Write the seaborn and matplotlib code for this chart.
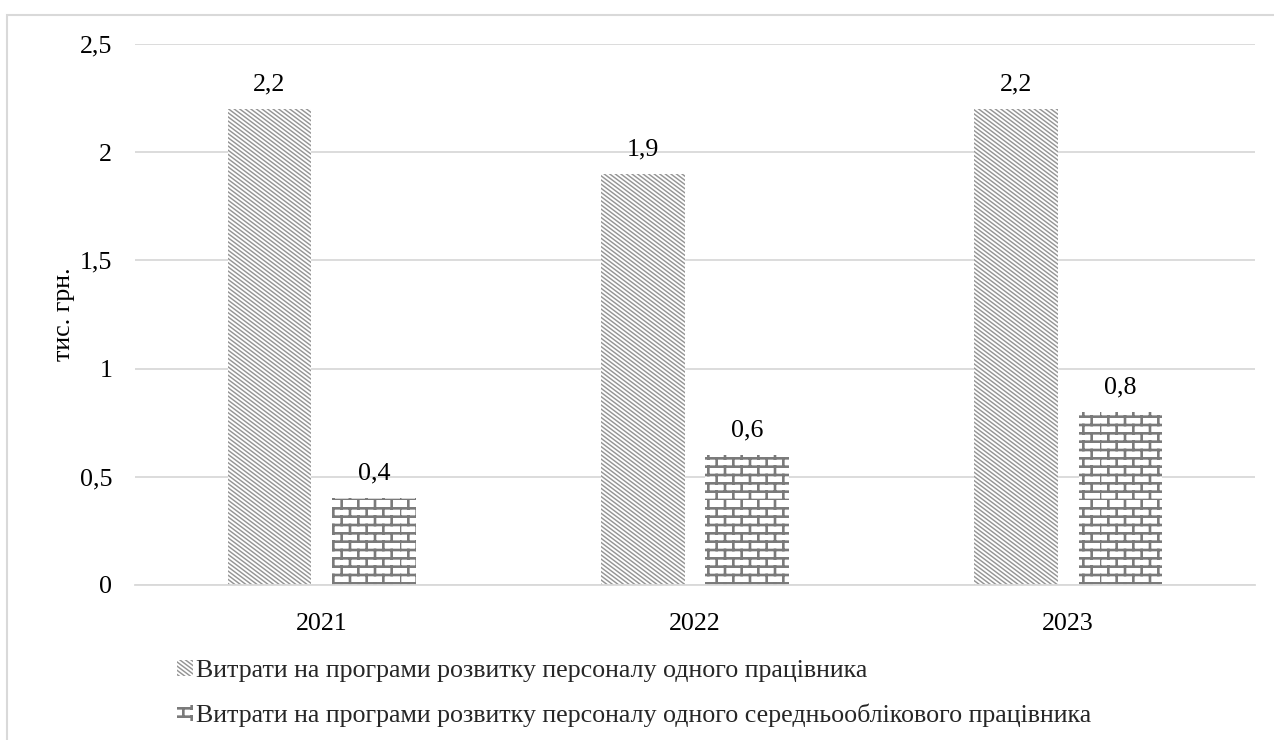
import warnings
import numpy as np
import pandas as pd
import matplotlib
matplotlib.use("Agg")
import matplotlib.pyplot as plt
import matplotlib.hatch as mhatch
from matplotlib.path import Path
from matplotlib.patches import Rectangle
from matplotlib.ticker import FuncFormatter, MultipleLocator
import seaborn as sns

warnings.filterwarnings("ignore")

years = ["2021", "2022", "2023"]
series_names = [
    "Витрати на програми розвитку персоналу одного працівника",
    "Витрати на програми розвитку персоналу одного середньооблікового працівника",
]
per_employee = [2.2, 1.9, 2.2]
per_avg_employee = [0.4, 0.6, 0.8]
y_label = "тис. грн."


class BrickHatch(mhatch.HatchPatternBase):
    """Staggered brick pattern, triggered by the 'b' hatch character."""

    rows = 12
    cols = 6

    def __init__(self, hatch, density):
        self.active = "b" in hatch
        self.num_vertices = (self.rows * 2 + self.rows * self.cols * 2) if self.active else 0

    def set_vertices_and_codes(self, vertices, codes):
        k = 0
        for i in range(self.rows):
            y0 = i / self.rows
            y1 = (i + 1) / self.rows
            vertices[k] = (0.0, y0)
            vertices[k + 1] = (1.0, y0)
            codes[k] = Path.MOVETO
            codes[k + 1] = Path.LINETO
            k += 2
            off = 0.5 * (i % 2)
            for j in range(self.cols):
                x = (j + off) / self.cols
                vertices[k] = (x, y0)
                vertices[k + 1] = (x, y1)
                codes[k] = Path.MOVETO
                codes[k + 1] = Path.LINETO
                k += 2


class ShallowDiagonalHatch(mhatch.HatchPatternBase):
    """Dense down-right diagonal lines with a moderate slope ('d' character)."""

    lines = 24
    drop = 0.75

    def __init__(self, hatch, density):
        self.active = "d" in hatch
        self.n_total = self.lines + int(self.lines * self.drop) + 1
        self.num_vertices = self.n_total * 2 if self.active else 0

    def set_vertices_and_codes(self, vertices, codes):
        for k in range(self.n_total):
            c = k / self.lines
            vertices[2 * k] = (0.0, c)
            vertices[2 * k + 1] = (1.0, c - self.drop)
            codes[2 * k] = Path.MOVETO
            codes[2 * k + 1] = Path.LINETO


for _cls in (BrickHatch, ShallowDiagonalHatch):
    if _cls not in mhatch._hatch_types:
        mhatch._hatch_types.append(_cls)

sns.set_theme(style="white")
plt.rcParams["font.family"] = ["Liberation Serif", "DejaVu Serif"]
plt.rcParams["hatch.linewidth"] = 1.0

FS = 18.7

df = pd.DataFrame({
    "year": years * 2,
    "value": per_employee + per_avg_employee,
    "series": [series_names[0]] * 3 + [series_names[1]] * 3,
})

fig = plt.figure(figsize=(12.74, 7.40), dpi=100)
ax = fig.add_axes([0.106, 0.2095, 0.879, 0.731])

sns.barplot(
    data=df, x="year", y="value", hue="series", hue_order=series_names,
    palette=["white", "white"], width=0.56, gap=0.2, ax=ax, legend=True,
    errorbar=None,
)

hatches = ["d", "b"]
hatch_colors = ["#959595", "#7a7a7a"]
hatch_widths = [1.05, 1.9]


def style_patch(p, h, hc, hw):
    p.set_hatch(h)
    p.set_edgecolor(hc)
    p.set_linewidth(0)
    if hasattr(p, "set_hatch_linewidth"):
        p.set_hatch_linewidth(hw)
    else:
        p._hatch_linewidth = hw


for cont, h, hc, hw in zip(ax.containers, hatches, hatch_colors, hatch_widths):
    for bar in cont:
        style_patch(bar, h, hc, hw)
    ax.bar_label(cont, labels=[f"{b.get_height():.1f}".replace(".", ",") for b in cont],
                 padding=10, fontsize=FS, color="black")

ax.set_ylim(0, 2.5)
ax.yaxis.set_major_locator(MultipleLocator(0.5))
ax.yaxis.set_major_formatter(FuncFormatter(lambda v, p: f"{v:g}".replace(".", ",")))
ax.grid(axis="y", color="#d9d9d9", linewidth=1.3)
ax.set_axisbelow(True)
for side in ["left", "right", "top"]:
    ax.spines[side].set_visible(False)
ax.spines["bottom"].set_color("#d9d9d9")
ax.spines["bottom"].set_linewidth(1.3)
ax.tick_params(axis="both", length=0, labelsize=FS, colors="black")
ax.tick_params(axis="y", pad=16.5)
ax.tick_params(axis="x", pad=20)
ax.set_xlabel("")
ax.set_ylabel(y_label, fontsize=FS, color="black")
ax.yaxis.set_label_coords(-0.054, 0.5)

handles, labels = ax.get_legend_handles_labels()
ax.legend_.remove()
leg = fig.legend(
    handles, labels, loc="upper left", bbox_to_anchor=(0.1287, 0.125),
    frameon=False, fontsize=FS, ncol=1, handlelength=0.6, handleheight=0.55,
    handletextpad=0.15, labelspacing=0.82, borderpad=0,
)
for hnd, h, hc, hw in zip(leg.legend_handles, hatches, hatch_colors, hatch_widths):
    style_patch(hnd, h, hc, hw)

fig.patches.append(Rectangle((7 / 1274, -0.1), 1.2, 1.1 - 15 / 740,
                             transform=fig.transFigure, fill=False,
                             edgecolor="#d9d9d9", linewidth=1.5))

fig.savefig("out.png", dpi=100, facecolor="white")
